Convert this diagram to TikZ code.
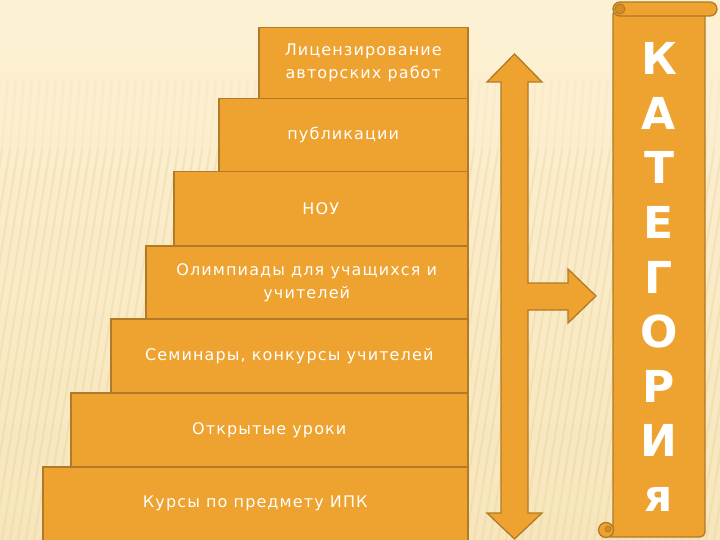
\documentclass[tikz,border=0pt]{standalone}
\usepackage{fontspec}
\newfontfamily\stepfont[LetterSpace=7]{DejaVu Sans}
\newfontfamily\scrollfont{DejaVu Sans}
\definecolor{stepfill}{HTML}{EEA22F}
\definecolor{stepline}{HTML}{B27A26}
\definecolor{bgtop}{HTML}{FDF1D4}
\definecolor{bgbottom}{HTML}{F7E6BC}
\definecolor{stripecol}{HTML}{E6CC8E}
\definecolor{curlcol}{HTML}{D58B26}
\tikzset{
	stepbox/.style={draw=stepline, fill=stepfill, line width=1.5pt, text=white,
		font=\stepfont\fontsize{16}{23}\selectfont, align=center,
		anchor=north west, inner sep=0pt},
	letter/.style={text=white, font=\scrollfont\bfseries\fontsize{44}{44}\selectfont, anchor=base},
	scroll/.style={draw=stepline, fill=stepfill, line width=1.3pt},
	stripeline/.style={stripecol, line width=2pt}
}
\begin{document}
\begin{tikzpicture}[x=1pt, y=-1pt]
	\useasboundingbox (0,0) rectangle (720,540);
	% background
	\shade[top color=bgtop, bottom color=bgbottom] (0,0) rectangle (720,540);
	\foreach \x in {-40,-32,...,820}
	{
		\draw[stripeline, opacity=0.12] (\x,80) -- (\x-6,150);
		\draw[stripeline, opacity=0.3] (\x-6,150) -- (\x-70,540);
	}
	
	% steps
	\node[stepbox, minimum width=209pt, minimum height=71pt] (lic) at (258,27) {Лицензирование\\авторских работ};
	\node[stepbox, minimum width=249pt, minimum height=73pt] (pub) at (218,98) {публикации};
	\node[stepbox, minimum width=294pt, minimum height=74pt] (nou) at (173,171) {НОУ};
	\node[stepbox, minimum width=322pt, minimum height=73pt] (olymp) at (145,245) {Олимпиады для учащихся и\\учителей};
	\node[stepbox, minimum width=357pt, minimum height=74pt] (semin) at (110,318) {Семинары, конкурсы учителей};
	\node[stepbox, minimum width=397pt, minimum height=74pt] (open) at (70,392) {Открытые уроки};
	\node[stepbox, minimum width=425pt, minimum height=74pt] (kurs) at (42,466) {Курсы по предмету ИПК};
	
	% double arrow with branch
	\draw[scroll, line join=miter] (514.5,54) -- (542,82) -- (528,82) -- (528,283)
		-- (568,283) -- (568,269) -- (596,296) -- (568,323) -- (568,310) -- (528,310)
		-- (528,513) -- (542,513) -- (514.5,539) -- (487,513) -- (501,513)
		-- (501,82) -- (487,82) -- cycle;
	
	% scroll
	\draw[scroll, rounded corners=5] (613,9) -- (705,9) -- (705,537) -- (606,537) -- (613,530) -- cycle;
	\draw[scroll] (606,530) circle (7.5);
	\draw[stepline, fill=curlcol, line width=0.8pt] (608,529) circle (3);
	\draw[scroll, rounded corners=7] (613,2) rectangle (717,16);
	\draw[stepline, fill=curlcol, line width=1pt] (620,9) circle (5);
	\foreach \l [count=\i] in {К,А,Т,Е,Г,О,Р,И,я}
	\node[letter] (l\i) at (659, 20.5+54.5*\i) {\l};
\end{tikzpicture}
\end{document}
